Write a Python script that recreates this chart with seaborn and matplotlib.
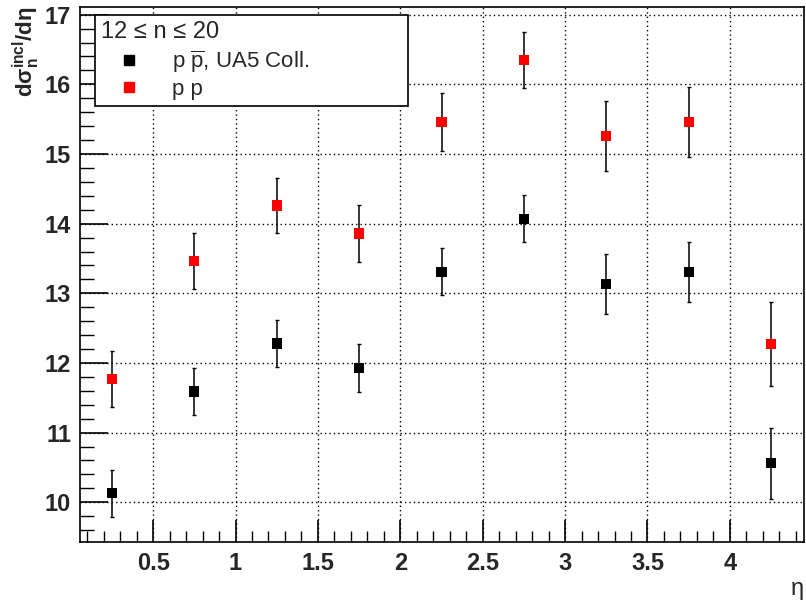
import numpy as np
import pandas as pd
import matplotlib
matplotlib.use("Agg")
import matplotlib.pyplot as plt
from matplotlib.lines import Line2D
from matplotlib.ticker import MultipleLocator
import seaborn as sns

# eta bin centres and the two series (value +- error)
eta = [0.25, 0.75, 1.25, 1.75, 2.25, 2.75, 3.25, 3.75, 4.25]
ppbar = [10.13, 11.59, 12.28, 11.93, 13.31, 14.07, 13.13, 13.31, 10.56]
ppbar_err = [0.34, 0.34, 0.34, 0.34, 0.34, 0.34, 0.43, 0.43, 0.51]
pp = [11.77, 13.46, 14.26, 13.86, 15.46, 16.35, 15.26, 15.46, 12.27]
pp_err = [0.40, 0.40, 0.40, 0.41, 0.41, 0.40, 0.50, 0.50, 0.60]

labels = [r"p $\overline{\mathrm{p}}$, UA5 Coll.", "p p"]
header = "12 ≤ n ≤ 20"

df = pd.concat([
    pd.DataFrame({"eta": eta, "val": ppbar, "err": ppbar_err, "set": labels[0]}),
    pd.DataFrame({"eta": eta, "val": pp, "err": pp_err, "set": labels[1]}),
])
colors = {labels[0]: "black", labels[1]: "#ff0000"}

sns.set_style("white")
plt.rcParams["font.family"] = ["Liberation Sans", "DejaVu Sans"]
plt.rcParams["mathtext.fontset"] = "custom"
plt.rcParams["mathtext.rm"] = "Liberation Sans"
plt.rcParams["mathtext.it"] = "Liberation Sans:italic"
plt.rcParams["mathtext.bf"] = "Liberation Sans:bold"

fig = plt.figure(figsize=(8.06, 6.0), dpi=100)
ax = fig.add_axes([79.5 / 806, 1 - 542 / 600, (804 - 79.5) / 806, (542 - 7) / 600])

for name, sub in df.groupby("set", sort=False):
    ax.errorbar(sub["eta"], sub["val"], yerr=sub["err"], fmt="none",
                ecolor="black", elinewidth=1.1, capsize=1.5, capthick=1, zorder=2)
sns.scatterplot(data=df, x="eta", y="val", hue="set", palette=colors,
                marker="s", s=55, linewidth=0, legend=False, ax=ax, zorder=3)

ax.set_xlim(0.053, 4.45)
ax.set_ylim(9.43, 17.11)
ax.xaxis.set_minor_locator(MultipleLocator(0.1))
ax.yaxis.set_minor_locator(MultipleLocator(0.2))
ax.tick_params(axis="both", which="both", left=True, bottom=True, top=False, right=False)
ax.tick_params(axis="both", which="major", direction="in", length=16, width=1.2,
               labelsize=17, color="black", pad=7)
ax.tick_params(axis="both", which="minor", direction="in", length=8, width=1, color="black")
ax.tick_params(axis="y", which="major", length=20, pad=6)
ax.tick_params(axis="y", which="minor", length=10)
ax.set_xticks([0.5, 1, 1.5, 2, 2.5, 3, 3.5, 4])
ax.set_xticklabels(["0.5", "1", "1.5", "2", "2.5", "3", "3.5", "4"], fontweight="bold")
ax.set_yticks([10, 11, 12, 13, 14, 15, 16, 17])
ax.set_yticklabels([str(v) for v in range(10, 18)], fontweight="bold")

ax.grid(True, which="major", color="black", linestyle=(0, (1, 2.2)), linewidth=1)
for sp in ax.spines.values():
    sp.set_color("black")
    sp.set_linewidth(1.2)

ax.set_xlabel("η", loc="right", fontsize=17, labelpad=2)
ax.set_ylabel(r"$\mathbf{d\sigma_{n}^{incl}/d\eta}$", loc="top", fontsize=16, labelpad=2)

handles = [Line2D([], [], marker="s", color=colors[l], linestyle="none", markersize=7) for l in labels]
leg = ax.legend(handles, labels, title=header, loc="upper left",
                bbox_to_anchor=(95 / 806, 1 - 15 / 600, (408 - 95) / 806, 0),
                bbox_transform=fig.transFigure, mode="expand", fontsize=16, title_fontsize=17,
                frameon=True, fancybox=False, framealpha=1, edgecolor="black",
                borderpad=0.25, labelspacing=0.2, handlelength=2.6, handletextpad=0.6,
                borderaxespad=0, alignment="left")
leg.get_frame().set_linewidth(1.2)
leg._legend_box.sep = 4

fig.savefig("out.png", dpi=100)
